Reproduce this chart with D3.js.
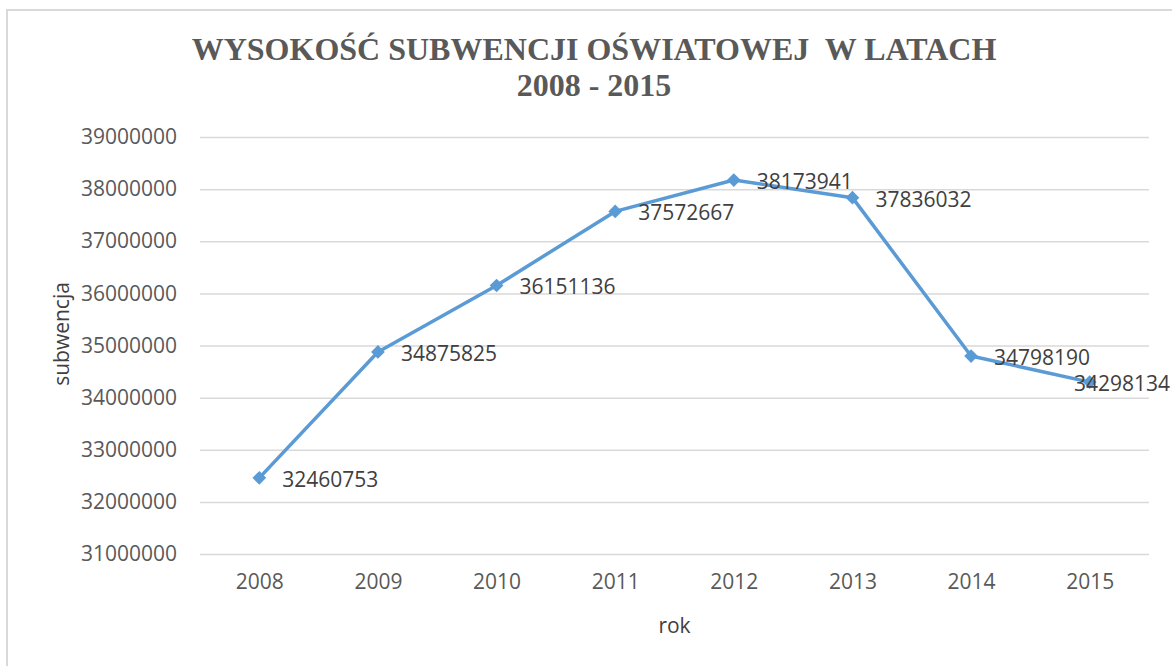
<!DOCTYPE html>
<html>
<head>
<meta charset="utf-8">
<script src="https://cdn.jsdelivr.net/npm/d3@7"></script>
<style>
  body { margin: 0; background: #fff; }
  svg { display: block; }
</style>
</head>
<body>
<svg id="chart"></svg>
<script>
// size
const width = 1172;
const height = 666;

// plot area
const margin = { top: 137, right: 23, bottom: 112, left: 200 };
const innerWidth = width - margin.left - margin.right;
const innerHeight = height - margin.top - margin.bottom;

// data
const years = ["2008", "2009", "2010", "2011", "2012", "2013", "2014", "2015"];
const subwencja = [32460753, 34875825, 36151136, 37572667, 38173941, 37836032, 34798190, 34298134];
const yTicks = [31000000, 32000000, 33000000, 34000000, 35000000, 36000000, 37000000, 38000000, 39000000];
const titleLines = ["WYSOKOŚĆ SUBWENCJI OŚWIATOWEJ  W LATACH", "2008 - 2015"];

const points = years.map((y, i) => ({ year: y, value: subwencja[i] }));

const svg = d3.select("#chart")
    .attr("width", width)
    .attr("height", height);

// chart border (right and bottom edges fall outside the picture, as in the original)
svg.append("rect")
    .attr("x", 7)
    .attr("y", 10)
    .attr("width", width + 20)
    .attr("height", height + 20)
    .attr("fill", "none")
    .attr("stroke", "#d9d9d9")
    .attr("stroke-width", 2);

const g = svg.append("g")
    .attr("transform", `translate(${margin.left},${margin.top})`);

// scales
const xScale = d3.scalePoint()
    .domain(years)
    .range([0, innerWidth])
    .padding(0.5);
const yScale = d3.scaleLinear()
    .domain([31000000, 39000000])
    .range([innerHeight, 0]);

// axes
const yAxis = d3.axisLeft(yScale)
    .tickValues(yTicks)
    .tickFormat(d3.format("d"))
    .tickSize(-innerWidth)
    .tickPadding(23);
const xAxis = d3.axisBottom(xScale)
    .tickSize(0)
    .tickPadding(20);

const gy = g.append("g")
    .call(yAxis)
    .attr("font-family", "'Open Sans', sans-serif")
    .attr("font-size", 21);
gy.select(".domain").remove();
gy.selectAll(".tick line").attr("stroke", "#d9d9d9").attr("stroke-width", 1.5);
gy.selectAll(".tick text").attr("fill", "#595959");

const gx = g.append("g")
    .attr("transform", `translate(0,${innerHeight})`)
    .call(xAxis)
    .attr("font-family", "'Open Sans', sans-serif")
    .attr("font-size", 21);
gx.select(".domain").remove();
gx.selectAll(".tick text").attr("fill", "#595959");

// title
svg.append("text")
    .attr("text-anchor", "middle")
    .attr("font-family", "'Liberation Serif', 'Times New Roman', serif")
    .attr("font-weight", "bold")
    .attr("font-size", 32)
    .attr("fill", "#595959")
    .selectAll("tspan")
    .data(titleLines)
    .enter()
    .append("tspan")
    .attr("x", 594)
    .attr("y", (d, i) => 60 + i * 36)
    .attr("xml:space", "preserve")
    .style("white-space", "pre")
    .text(d => d);

// axis labels
svg.append("text")
    .attr("text-anchor", "middle")
    .attr("font-family", "'Open Sans', sans-serif")
    .attr("font-size", 21)
    .attr("fill", "#404040")
    .attr("transform", `translate(69, 334) rotate(-90)`)
    .text("subwencja");
svg.append("text")
    .attr("text-anchor", "middle")
    .attr("font-family", "'Open Sans', sans-serif")
    .attr("font-size", 21)
    .attr("fill", "#404040")
    .attr("x", margin.left + innerWidth / 2)
    .attr("y", 633)
    .text("rok");

// line
const line = d3.line()
    .x(d => xScale(d.year))
    .y(d => yScale(d.value));

g.append("path")
    .datum(points)
    .attr("d", line)
    .attr("fill", "none")
    .attr("stroke", "#5b9bd5")
    .attr("stroke-width", 3.5)
    .attr("stroke-linejoin", "round");

// markers
g.selectAll("path.marker")
    .data(points)
    .enter()
    .append("path")
    .attr("class", "marker")
    .attr("d", d3.symbol(d3.symbolDiamond2, 120))
    .attr("transform", d => `translate(${xScale(d.year)},${yScale(d.value)})`)
    .attr("fill", "#5b9bd5");

// data labels, pushed back inside the chart if they run off the right edge
g.selectAll("text.label")
    .data(points)
    .enter()
    .append("text")
    .attr("class", "label")
    .attr("x", d => xScale(d.year) + 23)
    .attr("y", d => yScale(d.value) + 9)
    .attr("font-family", "'Open Sans', sans-serif")
    .attr("font-size", 21)
    .attr("fill", "#404040")
    .text(d => d.value)
    .each(function() {
        const el = d3.select(this);
        const w = this.getComputedTextLength();
        const maxX = width - margin.left - 2;
        if (+el.attr("x") + w > maxX) el.attr("x", maxX - w);
    });
</script>
</body>
</html>
